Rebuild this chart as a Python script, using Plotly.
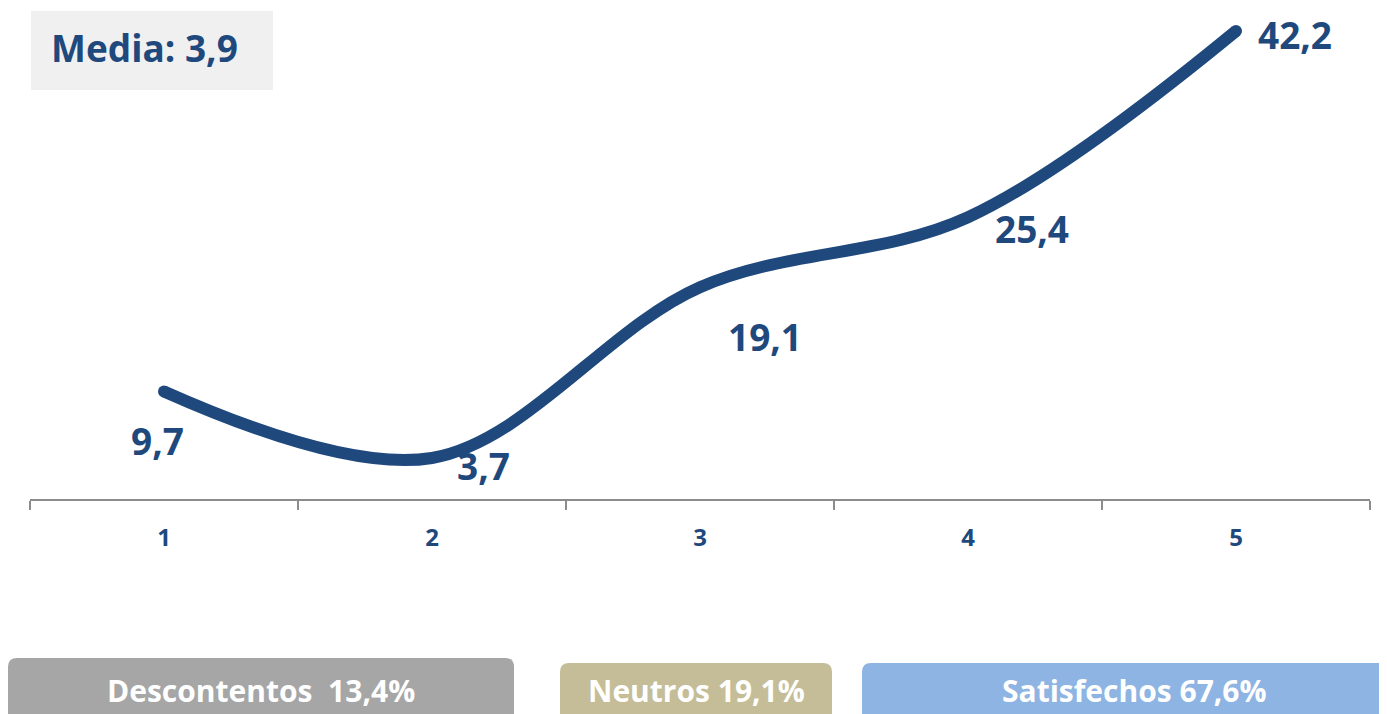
import plotly.graph_objects as go

categories = ["1", "2", "3", "4", "5"]
values = [9.7, 3.7, 19.1, 25.4, 42.2]
media_label = "Media: 3,9"
groups = ["Descontentos\u00a0\u00a013,4%", "Neutros 19,1%", "Satisfechos 67,6%"]

W, H = 1387, 714
OFF = 8  # page body margin
ML = 30 - OFF
PW = 1340
MR = W - ML - PW
MT = 0
PLOT_BOTTOM = 499 - OFF
MB = H - PLOT_BOTTOM
PH = PLOT_BOTTOM - MT
PX_PER_UNIT = 11.09
YTOP = PH / PX_PER_UNIT

def px(x):
    return (x - OFF - ML) / PW

def py(y):
    return (PLOT_BOTTOM - (y - OFF)) / PH

BLUE = "#1F497D"
FONT = "Open Sans"

fig = go.Figure()
fig.add_trace(go.Scatter(
    x=categories, y=values, mode="lines",
    line=dict(color=BLUE, width=12, shape="spline", smoothing=1.0),
    hoverinfo="skip", showlegend=False,
))
# round line caps at the two ends
fig.add_trace(go.Scatter(
    x=[categories[0], categories[-1]], y=[values[0], values[-1]], mode="markers",
    marker=dict(color=BLUE, size=12, line=dict(width=0), opacity=1),
    hoverinfo="skip", showlegend=False,
))

# data labels
offsets = [(-7, -49), (51, -8), (65, -49), (64, -11), (59, -3)]
for i, (v, (dx, dy)) in enumerate(zip(values, offsets)):
    fig.add_annotation(x=i, y=v, xref="x", yref="y",
                       text=f"{v:.1f}".replace(".", ","), showarrow=False,
                       xshift=dx, yshift=dy, borderpad=0,
                       font=dict(family=FONT, size=37, color=BLUE, weight="bold"))

shapes = []
# Media box
shapes.append(dict(type="rect", xref="paper", yref="paper",
                   x0=px(31), x1=px(273), y0=py(90), y1=py(11),
                   fillcolor="#F0F0F0", line=dict(width=0), layer="below"))
fig.add_annotation(xref="paper", yref="paper", x=px(49), y=py(47),
                   xanchor="left", yanchor="middle", text=media_label, showarrow=False,
                   font=dict(family=FONT, size=37, color=BLUE, weight="bold"))

def rounded_top(x0, x1, ytop, ybot, r=9):
    X0, X1 = px(x0), px(x1)
    return (f"M {X0},{py(ybot)} L {X0},{py(ytop + r)} "
            f"Q {X0},{py(ytop)} {px(x0 + r)},{py(ytop)} "
            f"L {px(x1 - r)},{py(ytop)} Q {X1},{py(ytop)} {X1},{py(ytop + r)} "
            f"L {X1},{py(ybot)} Z")

boxes = [(8, 514, 658, "#A6A6A6", 261), (560, 832, 663, "#C4BD97", 696), (862, 1400, 663, "#8DB4E2", 1134)]
for (x0, x1, yt, col, cx), label in zip(boxes, groups):
    shapes.append(dict(type="path", xref="paper", yref="paper",
                       path=rounded_top(x0, x1, yt, 740), fillcolor=col,
                       line=dict(width=0)))
    fig.add_annotation(xref="paper", yref="paper", x=px(cx), y=py(690),
                       xanchor="center", yanchor="middle", text=label, showarrow=False,
                       font=dict(family=FONT, size=30, color="white", weight="bold"))

fig.update_layout(
    width=W, height=H,
    margin=dict(l=ML, r=MR, t=MT, b=MB),
    paper_bgcolor="white", plot_bgcolor="white",
    shapes=shapes,
    xaxis=dict(type="category", range=[-0.5, 4.5], showgrid=False, zeroline=False,
               showline=True, linecolor="#8C8C8C", linewidth=2,
               ticks="outside", tickson="boundaries", ticklen=9, tickwidth=1.5,
               tickcolor="#8C8C8C", ticklabelstandoff=16,
               tickfont=dict(family=FONT, size=24, color=BLUE, weight="bold")),
    yaxis=dict(range=[0, YTOP], visible=False, showgrid=False, zeroline=False),
)

fig.write_html("out.html")
